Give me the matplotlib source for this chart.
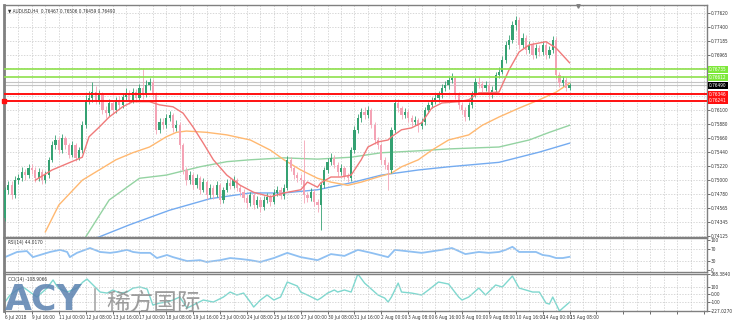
import numpy as np
import matplotlib.pyplot as plt
import matplotlib.transforms as mtransforms

# AUDUSD H4 candles (price values)
first_open = 0.7441
closes = [
    0.7485, 0.7492, 0.7477, 0.7500, 0.7503, 0.7513, 0.7508, 0.7519, 0.7516, 0.7503,
    0.7513, 0.7500, 0.7508, 0.7532, 0.7555, 0.7563, 0.7547, 0.7566, 0.7555, 0.7540,
    0.7555, 0.7535, 0.7547, 0.7587, 0.7626, 0.7629, 0.7638, 0.7626, 0.7634, 0.7610,
    0.7605, 0.7621, 0.7610, 0.7626, 0.7618, 0.7630, 0.7637, 0.7626, 0.7638, 0.7629,
    0.7644, 0.7634, 0.7649, 0.7654, 0.7634, 0.7579, 0.7591, 0.7587, 0.7597, 0.7602,
    0.7582, 0.7587, 0.7555, 0.7516, 0.7500, 0.7508, 0.7492, 0.7503, 0.7485, 0.7497,
    0.7477, 0.7488, 0.7477, 0.7492, 0.7469, 0.7485, 0.7496, 0.7491, 0.7500, 0.7488,
    0.7482, 0.7472, 0.7464, 0.7477, 0.7461, 0.7469, 0.7458, 0.7469, 0.7474, 0.7466,
    0.7480, 0.7485, 0.7475, 0.7488, 0.7532, 0.7519, 0.7508, 0.7503, 0.7500, 0.7477,
    0.7472, 0.7482, 0.7466, 0.7461, 0.7492, 0.7516, 0.7529, 0.7535, 0.7524, 0.7513,
    0.7519, 0.7507, 0.7503, 0.7547, 0.7579, 0.7597, 0.7607, 0.7602, 0.7610, 0.7587,
    0.7563, 0.7555, 0.7532, 0.7524, 0.7516, 0.7579, 0.7621, 0.7613, 0.7602, 0.7607,
    0.7597, 0.7591, 0.7594, 0.7585, 0.7591, 0.7610, 0.7618, 0.7626, 0.7629, 0.7634,
    0.7644, 0.7649, 0.7657, 0.7660, 0.7634, 0.7618, 0.7610, 0.7599, 0.7618, 0.7634,
    0.7654, 0.7651, 0.7644, 0.7649, 0.7634, 0.7641, 0.7665, 0.7670, 0.7688, 0.7712,
    0.7720, 0.7743, 0.7751, 0.7712, 0.7723, 0.7704, 0.7712, 0.7696, 0.7707, 0.7701,
    0.7712, 0.7696, 0.7704, 0.7720, 0.7665, 0.7652, 0.7657, 0.7645, 0.7649,
]
highs = [
    0.7490, 0.7499, 0.7498, 0.7507, 0.7510, 0.7520, 0.7518, 0.7526, 0.7525, 0.7521,
    0.7519, 0.7517, 0.7514, 0.7537, 0.7561, 0.7571, 0.7567, 0.7572, 0.7570, 0.7559,
    0.7561, 0.7558, 0.7552, 0.7592, 0.7633, 0.7640, 0.7654, 0.7648, 0.7641, 0.7638,
    0.7616, 0.7627, 0.7626, 0.7631, 0.7632, 0.7636, 0.7644, 0.7642, 0.7645, 0.7643,
    0.7650, 0.7676, 0.7657, 0.7660, 0.7658, 0.7638, 0.7597, 0.7598, 0.7603, 0.7609,
    0.7606, 0.7594, 0.7591, 0.7558, 0.7521, 0.7514, 0.7512, 0.7509, 0.7507, 0.7503,
    0.7501, 0.7494, 0.7492, 0.7498, 0.7495, 0.7490, 0.7502, 0.7504, 0.7507, 0.7504,
    0.7493, 0.7486, 0.7477, 0.7482, 0.7480, 0.7475, 0.7473, 0.7475, 0.7480, 0.7478,
    0.7486, 0.7491, 0.7489, 0.7494, 0.7538, 0.7537, 0.7523, 0.7513, 0.7509, 0.7563,
    0.7482, 0.7488, 0.7486, 0.7470, 0.7497, 0.7521, 0.7535, 0.7542, 0.7540, 0.7528,
    0.7525, 0.7523, 0.7512, 0.7552, 0.7585, 0.7603, 0.7613, 0.7614, 0.7616, 0.7613,
    0.7591, 0.7568, 0.7559, 0.7537, 0.7529, 0.7584, 0.7627, 0.7628, 0.7617, 0.7613,
    0.7611, 0.7602, 0.7600, 0.7598, 0.7597, 0.7615, 0.7623, 0.7631, 0.7635, 0.7640,
    0.7650, 0.7655, 0.7663, 0.7668, 0.7664, 0.7638, 0.7623, 0.7614, 0.7623, 0.7639,
    0.7660, 0.7662, 0.7656, 0.7655, 0.7653, 0.7647, 0.7670, 0.7678, 0.7694, 0.7718,
    0.7728, 0.7749, 0.7757, 0.7756, 0.7730, 0.7727, 0.7718, 0.7716, 0.7713, 0.7712,
    0.7718, 0.7716, 0.7710, 0.7726, 0.7724, 0.7670, 0.7663, 0.7661, 0.7652,
]
lows = [
    0.7436, 0.7478, 0.7470, 0.7472, 0.7494, 0.7498, 0.7501, 0.7504, 0.7509, 0.7497,
    0.7499, 0.7494, 0.7495, 0.7504, 0.7528, 0.7549, 0.7541, 0.7543, 0.7549, 0.7534,
    0.7536, 0.7530, 0.7531, 0.7543, 0.7582, 0.7619, 0.7622, 0.7620, 0.7620, 0.7603,
    0.7598, 0.7600, 0.7604, 0.7606, 0.7612, 0.7613, 0.7625, 0.7620, 0.7621, 0.7623,
    0.7624, 0.7628, 0.7630, 0.7642, 0.7628, 0.7572, 0.7574, 0.7580, 0.7582, 0.7592,
    0.7576, 0.7577, 0.7549, 0.7510, 0.7492, 0.7494, 0.7486, 0.7487, 0.7479, 0.7481,
    0.7471, 0.7472, 0.7470, 0.7473, 0.7463, 0.7465, 0.7481, 0.7486, 0.7487, 0.7483,
    0.7476, 0.7466, 0.7457, 0.7460, 0.7455, 0.7456, 0.7450, 0.7454, 0.7464, 0.7460,
    0.7462, 0.7475, 0.7470, 0.7471, 0.7484, 0.7514, 0.7502, 0.7497, 0.7494, 0.7465,
    0.7466, 0.7468, 0.7460, 0.7450, 0.7422, 0.7488, 0.7511, 0.7524, 0.7519, 0.7507,
    0.7508, 0.7502, 0.7497, 0.7499, 0.7543, 0.7574, 0.7591, 0.7596, 0.7597, 0.7581,
    0.7557, 0.7549, 0.7526, 0.7517, 0.7485, 0.7511, 0.7574, 0.7607, 0.7596, 0.7597,
    0.7591, 0.7585, 0.7586, 0.7575, 0.7580, 0.7587, 0.7605, 0.7613, 0.7620, 0.7623,
    0.7629, 0.7639, 0.7643, 0.7652, 0.7628, 0.7612, 0.7603, 0.7592, 0.7595, 0.7613,
    0.7630, 0.7645, 0.7638, 0.7639, 0.7628, 0.7629, 0.7637, 0.7660, 0.7666, 0.7684,
    0.7705, 0.7715, 0.7736, 0.7706, 0.7707, 0.7698, 0.7699, 0.7690, 0.7691, 0.7695,
    0.7696, 0.7690, 0.7691, 0.7699, 0.7659, 0.7646, 0.7648, 0.7640, 0.7642,
]

# moving averages (bar index, price)
ma_fast_idx = [9, 14, 23, 25, 28, 31, 35, 38, 43, 46, 50, 53, 56, 59, 62, 66, 70, 74, 79, 83, 88, 90, 93, 94, 97,
               100, 103, 106, 108, 111, 114, 115, 118, 121, 124, 127, 130, 135, 138, 141, 144, 147, 150, 153,
               156, 161, 164, 168]
ma_fast = [0.7500, 0.7516, 0.7536, 0.7568, 0.7583, 0.7599, 0.7615, 0.7623, 0.7623, 0.7618, 0.7615, 0.7605,
           0.7583, 0.7558, 0.7532, 0.7508, 0.7492, 0.7481, 0.7474, 0.7480, 0.7485, 0.7497, 0.7489, 0.7496,
           0.7505, 0.7505, 0.7508, 0.7532, 0.7552, 0.7560, 0.7563, 0.7568, 0.7579, 0.7582, 0.7590, 0.7613,
           0.7621, 0.7623, 0.7626, 0.7637, 0.7637, 0.7638, 0.7673, 0.7701, 0.7712, 0.7717, 0.7707, 0.7684]
ma_mid_idx = [12, 16, 23, 28, 33, 38, 43, 48, 51, 54, 60, 66, 73, 79, 83, 88, 93, 97, 102, 106, 111, 115, 118,
              123, 127, 132, 138, 142, 147, 153, 159, 164, 168]
ma_mid = [0.7419, 0.7461, 0.7500, 0.7516, 0.7532, 0.7543, 0.7552, 0.7568, 0.7575, 0.7577, 0.7575, 0.7571,
          0.7563, 0.7547, 0.7532, 0.7516, 0.7503, 0.7497, 0.7492, 0.7497, 0.7505, 0.7511, 0.7521, 0.7532,
          0.7547, 0.7563, 0.7571, 0.7586, 0.7599, 0.7613, 0.7626, 0.7638, 0.7652]
ma_slow_idx = [24, 31, 40, 48, 58, 66, 73, 83, 93, 103, 112, 123, 132, 147, 156, 162, 168]
ma_slow = [0.7411, 0.7469, 0.7503, 0.7508, 0.7521, 0.7529, 0.7532, 0.7535, 0.7533, 0.7536, 0.7543, 0.7546,
           0.7549, 0.7552, 0.7563, 0.7575, 0.7586]
ma_long_idx = [27, 37, 49, 61, 73, 83, 93, 103, 112, 123, 132, 147, 159, 168]
ma_long = [0.7409, 0.7430, 0.7453, 0.7471, 0.7480, 0.7480, 0.7485, 0.7496, 0.7508, 0.7516, 0.7521, 0.7528,
           0.7544, 0.7558]

# horizontal levels
green_levels = [0.76735, 0.76612]
red_levels = [0.76346, 0.76241]
gray_levels = [0.76540, 0.76490]
last_price = 0.76490

# RSI(14)
rsi_idx = [0, 3.6, 6.5, 8.3, 11.3, 13.4, 16.4, 18.5, 19.3, 21.4, 25.3, 28.3, 31.3, 33.3, 36.3, 38.1, 40.2, 43.2,
           45.2, 48.2, 50, 54.2, 58, 60, 64, 67, 70, 73, 76, 80, 84, 88, 93, 97, 101, 105, 109, 114, 116, 124,
           130, 133, 137, 141, 144, 147, 149, 151, 153, 156, 158, 160, 162, 164, 166, 168]
rsi = [43, 60, 63, 43, 53, 60, 67, 60, 43, 57, 73, 60, 57, 60, 67, 60, 57, 57, 40, 50, 43, 30, 33, 27, 33, 40,
       37, 33, 27, 40, 57, 43, 33, 53, 47, 67, 57, 43, 67, 57, 67, 73, 53, 60, 57, 60, 67, 77, 60, 60, 60, 50,
       47, 40, 40, 44.017]

# CCI(14)
cci_idx = [0, 1.5, 3.6, 5.4, 7.4, 9.5, 12.5, 14.3, 15.8, 18.5, 21.4, 23.2, 24.4, 26.2, 28.3, 30.4, 32.1, 34.2,
           36.3, 38.1, 40.2, 42.3, 44, 46, 48.2, 50, 52, 54.2, 56, 59, 62, 65, 67, 69, 71, 73, 74, 76, 78, 80,
           82, 84, 87, 88, 90, 93, 94, 96, 98, 99, 101, 103, 105, 107, 111, 113, 114, 115, 117, 118, 121, 124,
           126, 129, 132, 135, 136, 138, 141, 143, 146, 148, 151, 153, 155, 157, 159, 161, 162, 163, 165, 168]
cci = [-107, -13, 54, 94, 27, -40, 80, 188, 80, 27, 80, 161, 201, 121, 27, 13, 54, 13, 27, 80, 94, 67, -147,
       -121, -107, -80, -40, -188, -147, -80, -107, -40, 27, -13, 13, -107, -174, -80, -13, -80, -40, 161, 107,
       27, -13, -80, -54, 13, 54, 27, 54, 27, 268.384, 147, -13, -54, -107, -40, 147, 27, 13, -13, 54, 161, 134,
       -40, -80, -40, 80, -13, 121, 94, 241, 80, 54, 27, 27, -121, -134, -40, -227.027, -108.9066]

price_ticks = [0.74125, 0.74345, 0.74565, 0.74780, 0.75000, 0.75220, 0.75440, 0.75660, 0.75880, 0.76100,
               0.76320, 0.76540, 0.76755, 0.76965, 0.77185, 0.77400, 0.77620]
hidden_ticks = [0.76320, 0.76540, 0.76755]   # covered by the level boxes
date_labels = ['6 Jul 2018', '9 Jul 16:00', '11 Jul 00:00', '12 Jul 08:00', '13 Jul 16:00', '17 Jul 00:00',
               '18 Jul 08:00', '19 Jul 16:00', '23 Jul 00:00', '24 Jul 08:00', '25 Jul 16:00', '27 Jul 00:00',
               '30 Jul 08:00', '31 Jul 16:00', '2 Aug 00:00', '3 Aug 08:00', '6 Aug 16:00', '8 Aug 00:00',
               '9 Aug 08:00', '10 Aug 16:00', '14 Aug 00:00', '15 Aug 08:00']

plt.rcParams['font.family'] = ['DejaVu Sans']
plt.rcParams['font.stretch'] = 'condensed'
W, H = 733, 324
fig = plt.figure(figsize=(W / 100, H / 100), dpi=100)


def rect(x0, y0, x1, y1):
    return [x0 / W, 1 - y1 / H, (x1 - x0) / W, (y1 - y0) / H]


ax = fig.add_axes(rect(4, 5, 707, 237))
ax_rsi = fig.add_axes(rect(4, 238, 707, 272), sharex=ax)
ax_cci = fig.add_axes(rect(4, 274, 707, 311), sharex=ax)

FS = 3.4
XMAX = 208.9
major_x = np.arange(0, 209, 8)
grid_kw = dict(color='#c8c8c8', lw=0.5, ls=(0, (2, 2)))
for a in (ax, ax_rsi, ax_cci):
    a.set_xlim(-0.3, XMAX)
    a.set_xticks(major_x)
    a.set_xticks(np.arange(4, 209, 8), minor=True)
    a.grid(True, axis='x', which='both', **grid_kw)
    a.yaxis.tick_right()
    a.tick_params(axis='y', labelsize=FS, length=2, pad=0.8, width=0.5, colors='#333333')
    a.tick_params(axis='x', which='both', length=0)
    for s in a.spines.values():
        s.set_color('#808080')
        s.set_linewidth(1.0)
    a.spines['left'].set_linewidth(2.0)
    a.set_axisbelow(True)

# --- main candles
n = len(closes)
idx = np.arange(n)
c = np.array(closes)
o = np.array([first_open] + closes[:-1])
hi = np.array(highs)
lo = np.array(lows)
bull = c >= o
bull_col, bear_col = '#35a172', '#f4a3b5'
cols = np.where(bull, bull_col, bear_col)
ax.vlines(idx, lo, hi, colors=cols, lw=0.6, zorder=3)
body = np.maximum(np.abs(c - o), 0.00004)
ax.bar(idx, body, bottom=np.minimum(o, c), width=0.66, color=cols, lw=0, zorder=4)

ax.plot(ma_long_idx, ma_long, color='#74abf0', lw=1.0, zorder=2)
ax.plot(ma_slow_idx, ma_slow, color='#94d3a2', lw=1.0, zorder=2)
ax.plot(ma_mid_idx, ma_mid, color='#ffb870', lw=1.0, zorder=2)
ax.plot(ma_fast_idx, ma_fast, color='#f07a7a', lw=1.0, zorder=5)

for lv in gray_levels:
    ax.axhline(lv, color='#c4c4c4', lw=0.8, zorder=1)
for lv in green_levels:
    ax.axhline(lv, color='#8ee04c', lw=1.2, zorder=6)
for lv in red_levels:
    ax.axhline(lv, color='#ff1010', lw=1.4, zorder=6)
ax.plot(-0.3, red_levels[1], marker='s', ms=2.5, color='#ff1010', clip_on=False, zorder=7)

ax.set_ylim(0.7411, 0.77745)
ax.set_yticks(price_ticks)
ax.set_yticklabels(['' if t in hidden_ticks else f'{t:.5f}' for t in price_ticks])
ax.grid(True, axis='y', **grid_kw)
ax.tick_params(axis='x', labelbottom=False)

trans = mtransforms.blended_transform_factory(ax.transAxes, ax.transData)
box_items = [(green_levels[0], '#7ee83a'), (green_levels[1], '#7ee83a'),
             (last_price, '#000000'), (red_levels[0], '#ff1010'), (red_levels[1], '#ff1010')]
for lv, col in box_items:
    ax.text(1.003, lv, f'{lv:.5f}', transform=trans, fontsize=FS, color='white', va='center', ha='left',
            bbox=dict(boxstyle='square,pad=0.2', fc=col, ec='none'), zorder=10, clip_on=False)

ax.plot(170.5, 0.995, marker='v', ms=2.5, color='#808080',
        transform=mtransforms.blended_transform_factory(ax.transData, ax.transAxes), clip_on=False)
ax.text(0.006, 0.985, '\u25bc AUDUSD,H4  0.76467 0.76506 0.76459 0.76490', transform=ax.transAxes,
        fontsize=FS, color='#333333', va='top', ha='left')

# --- RSI
ax_rsi.plot(rsi_idx, rsi, color='#8fc0f2', lw=1.3)
ax_rsi.set_ylim(-6, 106)
ax_rsi.set_yticks([100, 70, 30, 0])
for lv in (70, 30):
    ax_rsi.axhline(lv, **grid_kw)
ax_rsi.tick_params(axis='x', labelbottom=False)
ax_rsi.text(0.006, 0.93, 'RSI(14) 44.0170', transform=ax_rsi.transAxes, fontsize=FS, color='#333333',
            va='top', ha='left')

# --- CCI
ax_cci.plot(cci_idx, cci, color='#7fd8cf', lw=1.0)
ax_cci.set_ylim(-227.027, 268.384)
ax_cci.set_yticks([268.384, 100, 0, -100, -227.027])
ax_cci.set_yticklabels(['268.3840', '100', '0.00', '-100', '-227.0270'])
for lv in (100, 0, -100):
    ax_cci.axhline(lv, **grid_kw)
ax_cci.set_xticks(major_x)
ax_cci.set_xticklabels(date_labels + [''] * (len(major_x) - len(date_labels)), ha='left')
ax_cci.tick_params(axis='x', labelsize=FS, length=2, pad=1, width=0.5, colors='#333333')
ax_cci.text(0.006, 0.93, 'CCI(14) -108.9066', transform=ax_cci.transAxes, fontsize=FS, color='#333333',
            va='top', ha='left')

# watermark
fig.text(5 / W, 1 - 309 / H, 'ACY', fontsize=25, fontweight='bold', fontstretch='normal', color='#5b82b0',
         alpha=0.85, ha='left', va='baseline')
fig.add_artist(plt.Line2D([95 / W, 95 / W], [1 - 311 / H, 1 - 289 / H], color='#a8a8a8', lw=1.2))
fig.text(106 / W, 1 - 310 / H, '稀方国际', fontsize=17, color='#8c8c8c', alpha=0.85,
         family=['Noto Sans CJK SC', 'DejaVu Sans'], ha='left', va='baseline')

fig.savefig('out.png', dpi=100, facecolor='white')
